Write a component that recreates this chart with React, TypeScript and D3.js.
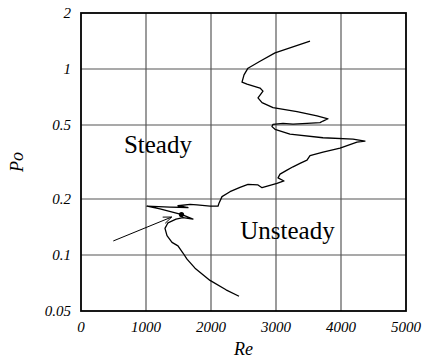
import React from "react";
import * as d3 from "d3";

const reValues = [3523, 2985, 2754, 2569, 2508, 2477, 2554, 2754, 2800, 2723, 2785, 2954, 3323, 3631, 3800, 3723, 3677, 3477, 3262, 3108, 2954, 2938, 2985, 3215, 3723, 4185, 4369, 4246, 3985, 3723, 3523, 3477, 3369, 3262, 3169, 3062, 3031, 3123, 3015, 2785, 2723, 2569, 2446, 2292, 2169, 2123, 2108, 1985, 1785, 1677, 1492, 1646, 1369, 1015, 1215, 1554, 1723, 1569, 1462, 1338, 1292, 1323, 1400, 1492, 1569, 1631, 1754, 1985, 2231, 2431];
const poValues = [1.41, 1.22, 1.10, 1.01, 0.93, 0.85, 0.83, 0.79, 0.76, 0.70, 0.66, 0.62, 0.59, 0.56, 0.54, 0.525, 0.515, 0.51, 0.506, 0.51, 0.504, 0.49, 0.474, 0.446, 0.427, 0.42, 0.41, 0.404, 0.375, 0.357, 0.342, 0.324, 0.311, 0.298, 0.286, 0.272, 0.26, 0.25, 0.243, 0.23, 0.238, 0.24, 0.231, 0.219, 0.206, 0.19, 0.183, 0.183, 0.186, 0.187, 0.184, 0.18, 0.181, 0.183, 0.177, 0.165, 0.156, 0.159, 0.156, 0.149, 0.139, 0.127, 0.117, 0.112, 0.1025, 0.095, 0.085, 0.073, 0.065, 0.06];

const xTicks = [0, 1000, 2000, 3000, 4000, 5000];
const yTicks = [0.05, 0.1, 0.2, 0.5, 1, 2];
const xGrid = [1000, 2000, 3000, 4000];
const yGrid = [0.1, 0.2, 0.5, 1];

const arrowFrom = [497, 0.119];
const arrowTo = [1395, 0.16];
const dotPoint = [1546, 0.165];

const regionLabels = [
  { text: "Steady", re: 660, po: 0.352 },
  { text: "Unsteady", re: 2450, po: 0.122 },
];

const FONT = "'Liberation Serif', 'Times New Roman', serif";

export default function App() {
  const W = 422, H = 360;
  const left = 81, right = 406, top = 13, bottom = 311;
  const x = d3.scaleLinear().domain([0, 5000]).range([left, right]);
  const y = d3.scaleLog().domain([0.05, 2]).range([bottom, top]);
  const pts: [number, number][] = reValues.map((r, i) => [x(r), y(poValues[i])]);
  const line = d3.line().curve(d3.curveLinear)(pts) || "";

  const ax = x(arrowFrom[0]), ay = y(arrowFrom[1]);
  const bx = x(arrowTo[0]), by = y(arrowTo[1]);
  const ang = Math.atan2(by - ay, bx - ax);
  const hl = 9, ha = 0.38;
  const h1 = [bx - hl * Math.cos(ang - ha), by - hl * Math.sin(ang - ha)];
  const h2 = [bx - hl * Math.cos(ang + ha), by - hl * Math.sin(ang + ha)];

  return (
    <svg width={W} height={H} style={{ position: "absolute", left: 0, top: 0, background: "#fff" }}>
      {xGrid.map((v) => (
        <line key={"xg" + v} x1={x(v)} x2={x(v)} y1={top} y2={bottom} stroke="#7a7a7a" strokeWidth={1.5} />
      ))}
      {yGrid.map((v) => (
        <line key={"yg" + v} x1={left} x2={right} y1={y(v)} y2={y(v)} stroke="#555" strokeWidth={1.2} />
      ))}
      <rect x={left} y={top} width={right - left} height={bottom - top} fill="none" stroke="#000" strokeWidth={1.8} />
      <path d={line} fill="none" stroke="#000" strokeWidth={1.3} strokeLinejoin="round" />
      <line x1={ax} y1={ay} x2={bx} y2={by} stroke="#000" strokeWidth={1} />
      <polyline points={`${h1[0]},${h1[1]} ${bx},${by} ${h2[0]},${h2[1]}`} fill="none" stroke="#000" strokeWidth={1} />
      <circle cx={x(dotPoint[0])} cy={y(dotPoint[1])} r={2.6} fill="#000" />
      {regionLabels.map((l) => (
        <text key={l.text} x={x(l.re)} y={y(l.po)} fontFamily={FONT} fontSize={25} fill="#000">{l.text}</text>
      ))}
      {xTicks.map((v) => (
        <text key={"xt" + v} x={x(v)} y={bottom + 21} textAnchor="middle" fontFamily={FONT} fontStyle="italic" fontSize={15}>{v}</text>
      ))}
      {yTicks.map((v) => (
        <text key={"yt" + v} x={left - 10} y={y(v) + 5} textAnchor="end" fontFamily={FONT} fontStyle="italic" fontSize={15}>{String(v)}</text>
      ))}
      <text x={(left + right) / 2} y={355} textAnchor="middle" fontFamily={FONT} fontStyle="italic" fontSize={18}>Re</text>
      <text transform={`translate(23,${(top + bottom) / 2}) rotate(-90)`} textAnchor="middle" fontFamily={FONT} fontStyle="italic" fontSize={18}>Po</text>
    </svg>
  );
}
